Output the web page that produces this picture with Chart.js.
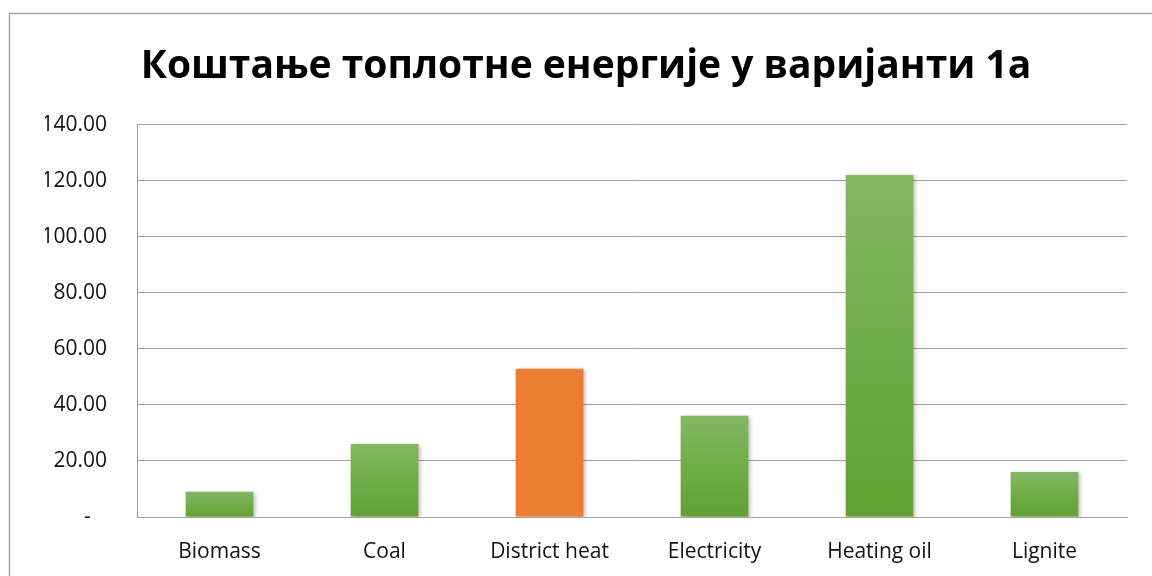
<!DOCTYPE html>
<html>
<head>
<meta charset="utf-8">
<script src="https://cdn.jsdelivr.net/npm/chart.js@4/dist/chart.umd.min.js"></script>
<style>
  html, body { margin: 0; padding: 0; background: #fff; }
  #wrap { width: 1152px; height: 576px; position: relative; }
</style>
</head>
<body>
<div id="wrap"><canvas id="costChart"></canvas></div>
<script>
  const chartTitle = 'Коштање топлотне енергије у варијанти 1а';
  const categories = ['Biomass', 'Coal', 'District heat', 'Electricity', 'Heating oil', 'Lignite'];
  const costs = [9.0, 26.1, 52.9, 36.1, 122.1, 16.1];
  const highlighted = ['District heat'];
  const yMin = 0, yMax = 140, yStep = 20;

  const FONT = '"Open Sans", "Noto Sans", sans-serif';

  function barFill(context){
    const chart = context.chart;
    const i = context.dataIndex;
    if (highlighted.includes(categories[i])) return '#ed7d31';
    const y = chart.scales && chart.scales.y;
    if (!y || !chart.chartArea) return '#70ad47';
    const top = y.getPixelForValue(costs[i]);
    const bottom = y.getPixelForValue(0);
    if (!isFinite(top) || !isFinite(bottom) || top === bottom) return '#70ad47';
    const g = chart.ctx.createLinearGradient(0, top, 0, bottom);
    g.addColorStop(0, '#84b765');
    g.addColorStop(0.5, '#70ad47');
    g.addColorStop(1, '#62a035');
    return g;
  }

  const frame = {
    id: 'frame',
    beforeDatasetsDraw(chart){
      const ctx = chart.ctx;
      ctx.save();
      ctx.shadowColor = 'rgba(0,0,0,0.28)';
      ctx.shadowBlur = 4;
      ctx.shadowOffsetX = 2;
      ctx.shadowOffsetY = 1;
    },
    afterDatasetsDraw(chart){
      chart.ctx.restore();
    },
    afterDraw(chart){
      const ctx = chart.ctx;
      ctx.save();
      ctx.strokeStyle = '#a6a6a6';
      ctx.lineWidth = 1.5;
      ctx.strokeRect(9.5, 13.5, chart.width + 10, chart.height + 10);
      ctx.restore();
    }
  };

  new Chart(document.getElementById('costChart'), {
    type: 'bar',
    data: {
      labels: categories,
      datasets: [{
        data: costs,
        backgroundColor: barFill,
        borderWidth: 0,
        barPercentage: 0.41,
        categoryPercentage: 1
      }]
    },
    options: {
      responsive: true,
      maintainAspectRatio: false,
      animation: false,
      layout: { padding: { left: 45, right: 25, top: 0, bottom: 0 } },
      plugins: {
        legend: { display: false },
        tooltip: { enabled: false },
        title: {
          display: true,
          text: chartTitle,
          color: '#000',
          font: { family: FONT, size: 39, weight: 'bold', lineHeight: 1.2 },
          padding: { top: 43, bottom: 35 }
        }
      },
      scales: {
        x: {
          afterFit(scale){ scale.height = 59; },
          grid: { display: false, drawTicks: false },
          border: { display: true, color: '#a0a0a0', width: 1 },
          ticks: { color: '#111', font: { family: FONT, size: 21 }, padding: 22 }
        },
        y: {
          min: yMin,
          max: yMax,
          afterFit(scale){ scale.width = 92; },
          grid: { color: '#a0a0a0', lineWidth: 1, drawTicks: false },
          border: { display: true, color: '#a0a0a0', width: 1 },
          ticks: {
            stepSize: yStep,
            color: '#111',
            font: { family: FONT, size: 21 },
            padding: 30,
            callback: v => v === 0 ? '-   ' : v.toFixed(2)
          }
        }
      }
    },
    plugins: [frame]
  });
</script>
</body>
</html>
